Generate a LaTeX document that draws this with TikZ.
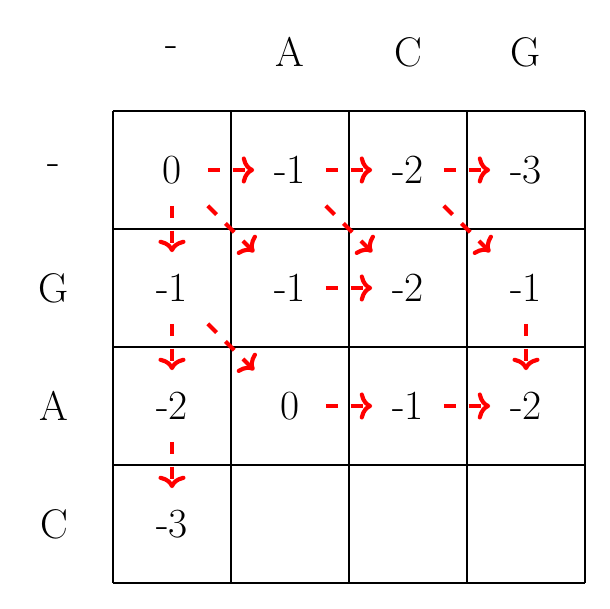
\documentclass[tikz,border=0pt]{standalone}
\usetikzlibrary{arrows.meta}
\begin{document}
\begin{tikzpicture}[
  cell/.style={minimum size=1.2cm, inner sep=0pt, font=\fontsize{20}{24}\selectfont},
  hdr/.style={inner sep=0pt, font=\fontsize{20}{24}\selectfont},
  gridline/.style={line width=0.9pt},
  tb/.style={draw=red, line width=2pt, dash pattern=on 6pt off 6pt, -{To[length=6pt,width=13pt,round]}}
]
\useasboundingbox (-2.915,-7.424) rectangle (7.424,2.881);
% grid
\foreach \i in {0,...,4} {
  \draw[gridline] ({-1+2*\i},1) -- ({-1+2*\i},-7);
  \draw[gridline] (-1,{1-2*\i}) -- (7,{1-2*\i});
}
% headers
\node[hdr] (h0) at (0,2) {-};
\node[hdr] (h1) at (2,2) {A};
\node[hdr] (h2) at (4,2) {C};
\node[hdr] (h3) at (6,2) {G};
\node[hdr] (r0) at (-2,0) {-};
\node[hdr] (r1) at (-2,-2) {G};
\node[hdr] (r2) at (-2,-4) {A};
\node[hdr] (r3) at (-2,-6) {C};
% cells
\node[cell] (c00) at (0,0) {0};
\node[cell] (c10) at (2,0) {-1};
\node[cell] (c20) at (4,0) {-2};
\node[cell] (c30) at (6,0) {-3};
\node[cell] (c01) at (0,-2) {-1};
\node[cell] (c11) at (2,-2) {-1};
\node[cell] (c21) at (4,-2) {-2};
\node[cell] (c31) at (6,-2) {-1};
\node[cell] (c02) at (0,-4) {-2};
\node[cell] (c12) at (2,-4) {0};
\node[cell] (c22) at (4,-4) {-1};
\node[cell] (c32) at (6,-4) {-2};
\node[cell] (c03) at (0,-6) {-3};
% arrows
\draw[tb] (c00.east) -- (c10.west);
\draw[tb] (c10.east) -- (c20.west);
\draw[tb] (c20.east) -- (c30.west);
\draw[tb] (c00.south) -- (c01.north);
\draw[tb] (c00.south east) -- (c11.north west);
\draw[tb] (c10.south east) -- (c21.north west);
\draw[tb] (c20.south east) -- (c31.north west);
\draw[tb] (c11.east) -- (c21.west);
\draw[tb] (c01.south) -- (c02.north);
\draw[tb] (c01.south east) -- (c12.north west);
\draw[tb] (c31.south) -- (c32.north);
\draw[tb] (c12.east) -- (c22.west);
\draw[tb] (c22.east) -- (c32.west);
\draw[tb] (c02.south) -- (c03.north);
\end{tikzpicture}
\end{document}
